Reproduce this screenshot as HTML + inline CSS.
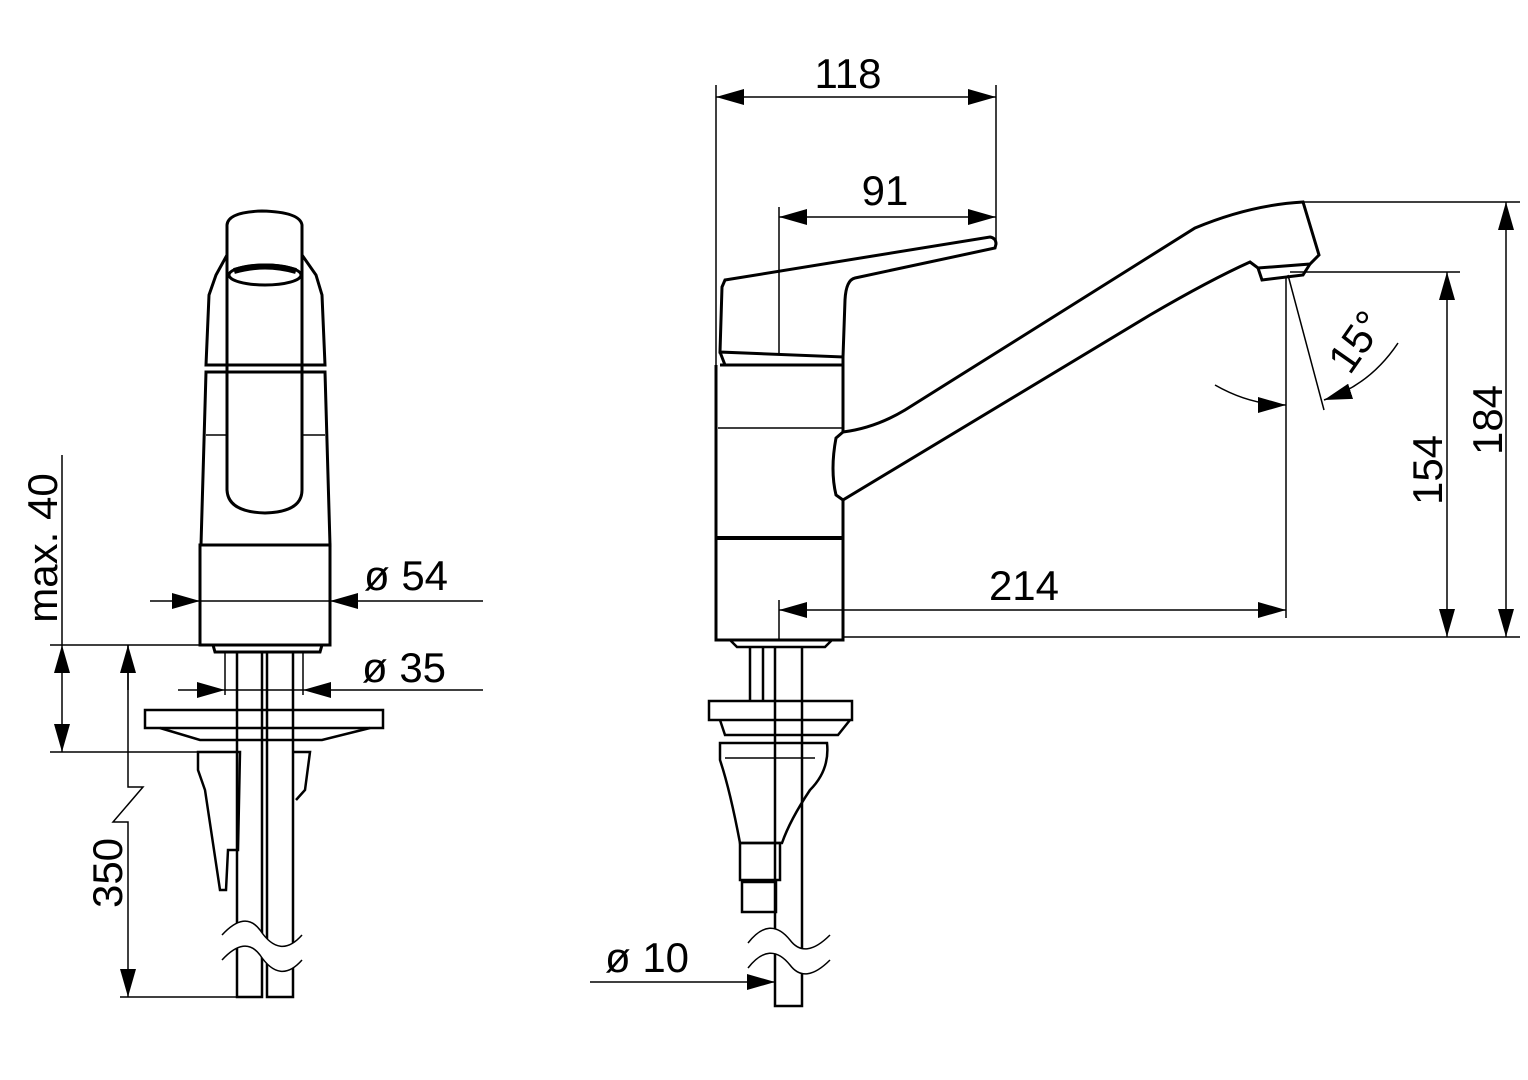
<!DOCTYPE html>
<html><head><meta charset="utf-8"><style>
html,body{margin:0;padding:0;background:#fff}
svg{display:block}
text{font-family:"Liberation Sans",Arial,sans-serif;fill:#000}
</style></head><body>
<svg width="1528" height="1080" viewBox="0 0 1528 1080" xmlns="http://www.w3.org/2000/svg">
<defs>
<marker id="a" viewBox="0 0 28 16" refX="28" refY="8" markerWidth="28" markerHeight="16" markerUnits="userSpaceOnUse" orient="auto-start-reverse"><path d="M0,0 L28,8 L0,16 z" fill="#000"/></marker>
</defs>
<g fill="none" stroke="#000" stroke-width="1.5">
<!-- ===== LEFT VIEW ===== -->
<g stroke-width="3">
<path d="M227,285 L227,225 Q228,212 262,211 Q300,212 302,225 L302,490 Q302,512 265,513 Q228,512 227,490 Z"/>
<path d="M227,255 L216,275 L209,295 L206,365 L325,365 L322,295 L316,275 L302,255"/>
<path d="M206,372 L201,545 L330,545 L325,372 Z"/>
<rect x="200" y="545" width="130" height="100"/>
<path d="M213,645 L215,652 L320,652 L322,645"/>
<ellipse cx="265" cy="275" rx="36" ry="10"/>
</g>
<path d="M234,271 Q265,262 296,271" stroke-width="6"/>
<line x1="206" y1="435" x2="227" y2="435"/><line x1="302" y1="435" x2="325" y2="435"/>
<!-- stems -->
<g stroke-width="2.5">
<path d="M237,652 L237,997 L262,997 L262,652"/>
<path d="M267,652 L267,997 L293,997 L293,652"/>
<rect x="145" y="710" width="238" height="18"/>
<path d="M160,728 L200,740 L322,740 L370,728"/>
<path d="M198,752 L240,752 L238,850 L228,850 L226,890 L220,890 L205,790 L198,770 Z"/>
<path d="M294,752 L310,752 L305,790 L296,800"/>
</g>
<path d="M222,935 Q245,910 260,930 Q280,960 302,935 L302,960 Q280,985 260,955 Q245,935 222,960 Z" fill="#fff" stroke="none"/>
<path d="M222,935 Q245,910 260,930 Q280,960 302,935"/>
<path d="M222,960 Q245,935 260,955 Q280,985 302,960"/>
<!-- dims left -->
<line x1="62" y1="455" x2="62" y2="645"/>
<line x1="62" y1="645" x2="62" y2="752" marker-start="url(#a)" marker-end="url(#a)"/>
<line x1="50" y1="645" x2="200" y2="645"/>
<line x1="50" y1="752" x2="200" y2="752"/>
<path d="M128,645 L128,787 L143,787 L113,822 L128,822 L128,997" marker-end="url(#a)"/>
<line x1="128" y1="690" x2="128" y2="645" marker-end="url(#a)"/>
<line x1="120" y1="997" x2="237" y2="997"/>
<line x1="150" y1="601" x2="200" y2="601" marker-end="url(#a)"/>
<line x1="200" y1="601" x2="330" y2="601"/>
<line x1="483" y1="601" x2="330" y2="601" marker-end="url(#a)"/>
<line x1="178" y1="690" x2="225" y2="690" marker-end="url(#a)"/>
<line x1="225" y1="690" x2="303" y2="690"/>
<line x1="483" y1="690" x2="303" y2="690" marker-end="url(#a)"/>
<line x1="225" y1="652" x2="225" y2="695"/><line x1="303" y1="652" x2="303" y2="695"/>

<!-- ===== RIGHT VIEW ===== -->
<g stroke-width="3">
<path d="M722,287 L725,280 L990,237 Q996,238 996,244 L995,248 L855,278 Q846,280 845,300 L843,357 L720,352 Z"/>
<path d="M720,365 L843,365 L843,432 Q875,428 905,410 L1195,228 Q1250,205 1303,202 L1319,255 L1310,264 L1258,268 L1250,262 Q1210,280 1150,315 L843,500 L843,640 L716,640 L716,365"/>
<path d="M843,432 L836,438 Q830,470 836,495 L843,500"/>
<path d="M1258,268 L1262,280 L1303,275 L1310,264"/>
<path d="M720,352 L725,365 M843,357 L843,365"/>
</g>
<line x1="718" y1="428" x2="843" y2="428"/>
<line x1="716" y1="538" x2="843" y2="538" stroke-width="4"/>
<g stroke-width="2.5">
<path d="M730,640 L737,647 L825,647 L832,640"/>
<path d="M750,647 L750,701 M763,647 L763,701 M775,647 L775,1006 L802,1006 L802,647"/>
<rect x="709" y="701" width="143" height="19"/>
<path d="M720,720 L725,735 L838,735 L850,720"/>
<path d="M720,743 L827,743 Q830,770 810,790 Q790,820 782,843 L740,843 Q730,790 720,760 Z"/>
<rect x="740" y="843" width="40" height="37"/>
<rect x="742" y="882" width="34" height="30"/>
</g>
<line x1="725" y1="758" x2="815" y2="758"/>
<path d="M748,943 Q770,915 790,940 Q805,960 830,935 L830,960 Q805,985 790,965 Q770,940 748,968 Z" fill="#fff" stroke="none"/>
<path d="M748,943 Q770,915 790,940 Q805,960 830,935"/>
<path d="M748,968 Q770,940 790,965 Q805,985 830,960"/>
<!-- dims right -->
<line x1="716" y1="85" x2="716" y2="365"/>
<line x1="996" y1="85" x2="996" y2="240"/>
<line x1="716" y1="97" x2="996" y2="97" marker-start="url(#a)" marker-end="url(#a)"/>
<line x1="779" y1="207" x2="779" y2="355"/>
<line x1="779" y1="217" x2="996" y2="217" marker-start="url(#a)" marker-end="url(#a)"/>
<line x1="1303" y1="202" x2="1520" y2="202"/>
<line x1="1290" y1="272" x2="1460" y2="272"/>
<line x1="843" y1="637" x2="1520" y2="637"/>
<line x1="1506" y1="202" x2="1506" y2="637" marker-start="url(#a)" marker-end="url(#a)"/>
<line x1="1447" y1="272" x2="1447" y2="637" marker-start="url(#a)" marker-end="url(#a)"/>
<line x1="1286" y1="277" x2="1286" y2="618"/>
<line x1="779" y1="600" x2="779" y2="640"/>
<line x1="779" y1="610" x2="1286" y2="610" marker-start="url(#a)" marker-end="url(#a)"/>
<line x1="1288" y1="275" x2="1324" y2="410"/>
<path d="M1215,385 Q1250,405 1286,405" marker-end="url(#a)"/>
<path d="M1398,343 Q1370,385 1324,400" marker-end="url(#a)"/>
<line x1="590" y1="982" x2="775" y2="982" marker-end="url(#a)"/>
</g>
<g font-size="42">
<text x="364" y="590">ø 54</text>
<text x="362" y="682">ø 35</text>
<text x="605" y="972">ø 10</text>
<text x="848" y="88" text-anchor="middle">118</text>
<text x="885" y="205" text-anchor="middle">91</text>
<text x="1024" y="600" text-anchor="middle">214</text>
<text transform="translate(57,548) rotate(-90)" text-anchor="middle">max. 40</text>
<text transform="translate(122,873) rotate(-90)" text-anchor="middle">350</text>
<text transform="translate(1442,470) rotate(-90)" text-anchor="middle">154</text>
<text transform="translate(1502,420) rotate(-90)" text-anchor="middle">184</text>
<text transform="translate(1368,350) rotate(-55)" text-anchor="middle">15°</text>
</g>
</svg>
</body></html>
